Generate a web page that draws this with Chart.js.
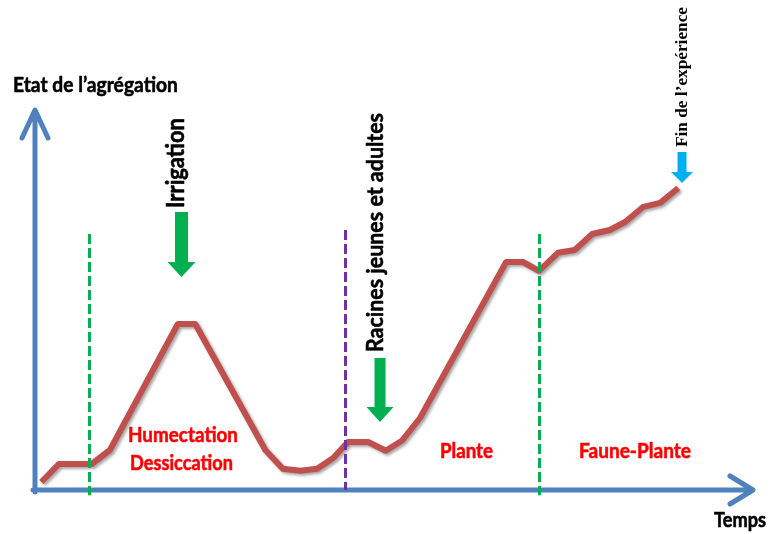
<!DOCTYPE html>
<html>
<head>
<meta charset="utf-8">
<script src="https://cdn.jsdelivr.net/npm/chart.js@4"></script>
<style>
  body { margin: 0; background: #fff; }
  #wrap { width: 769px; height: 534px; }
</style>
</head>
<body>
<div id="wrap"><canvas id="myChart" width="769" height="534"></canvas></div>
<script>
// time (0..100) and aggregation state (0..100)
const times  = [0.9, 3.4, 8.1, 10.7, 20.4, 22.9, 32.9, 35.4, 37.9, 40.3, 42.6, 44.7, 47.6, 50.1,
                52.4, 55, 67.3, 69.7, 72, 74.7, 77.1, 79.6, 82.1, 84.3, 86.9, 89.3, 91.9];
const levels = [2, 6.5, 6.5, 10, 41.5, 41.5, 10, 5.3, 4.8, 5.3, 8, 12, 12, 9.8,
                12.3, 18, 57, 57, 54.8, 59.3, 60, 64, 65, 67, 70.8, 71.8, 75.5];

// phase limits (dashed lines)
const boundaryTimes  = [7.7, 44.3, 72];
const boundaryTops   = [64, 65, 64];
const boundaryColors = ['#00b050', '#7030a0', '#00b050'];

// events (arrows)
const eventLabels = ['Irrigation', 'Racines jeunes et adultes', 'Fin de l’expérience'];
const eventTimes  = [20.93, 49.29, 92.43];

const phaseLabels = ['Humectation', 'Dessiccation', 'Plante', 'Faune-Plante'];
const axisTitles  = ['Etat de l’agrégation', 'Temps'];

// font size so that text fills a given length
function fitFont(ctx, text, len, weight, family) {
    ctx.font = weight + ' 20px ' + family;
    let size = 20 * len / ctx.measureText(text).width;
    return weight + ' ' + size.toFixed(2) + 'px ' + family;
}

function blockArrow(ctx, cx, top, neck, tip, shaftW, headW, color) {
    ctx.beginPath();
    ctx.moveTo(cx - shaftW / 2, top);
    ctx.lineTo(cx + shaftW / 2, top);
    ctx.lineTo(cx + shaftW / 2, neck);
    ctx.lineTo(cx + headW / 2, neck);
    ctx.lineTo(cx, tip);
    ctx.lineTo(cx - headW / 2, neck);
    ctx.lineTo(cx - shaftW / 2, neck);
    ctx.closePath();
    ctx.fillStyle = color;
    ctx.fill();
}

// heavier text, close to the original bold face
function heavyText(ctx, text, color, extra) {
    ctx.fillStyle = color;
    ctx.textAlign = 'left';
    ctx.textBaseline = 'alphabetic';
    ctx.fillText(text, 0, 0);
    if (extra) {
        ctx.strokeStyle = color;
        ctx.lineWidth = extra;
        ctx.lineJoin = 'round';
        ctx.strokeText(text, 0, 0);
    }
}

// vertical text, read from bottom to top
function upText(ctx, text, baseX, bottomY, len, weight, family, color, stretch, extra) {
    ctx.save();
    ctx.translate(baseX, bottomY);
    ctx.rotate(-Math.PI / 2);
    ctx.scale(1, stretch);
    ctx.font = fitFont(ctx, text, len, weight, family);
    heavyText(ctx, text, color, extra);
    ctx.restore();
}

// Lato is wider than the original face: fit the width, then stretch upwards
function flatText(ctx, text, left, base, len, color) {
    ctx.save();
    ctx.translate(left, base);
    ctx.scale(1, 1.1);
    ctx.font = fitFont(ctx, text, len, 'bold', 'Lato');
    heavyText(ctx, text, color, 0.5);
    ctx.restore();
}

const eventStyle = [
    { dx: 2.5, bottom: 208, len: 90, font: 'Lato', color: '#00b050', top: 212, neck: 262, tip: 277, sw: 13, hw: 28, st: 1.1, ex: 0.5 },
    { dx: 3, bottom: 352, len: 239, font: 'Lato', color: '#00b050', top: 358, neck: 407, tip: 422, sw: 11, hw: 27, st: 1.1, ex: 0.5 },
    { dx: 4.5, bottom: 147, len: 140, font: '"Liberation Serif"', color: '#00b0f0', top: 152, neck: 172, tip: 183, sw: 9, hw: 22, st: 1, ex: 0 }
];

const diagram = {
    id: 'diagram',
    beforeDatasetsDraw(chart) {
        const ctx = chart.ctx;
        const ox = chart.scales.x.getPixelForValue(0);
        const oy = chart.scales.y.getPixelForValue(0);
        ctx.save();
        ctx.strokeStyle = '#4f81bd';
        ctx.lineWidth = 5;
        ctx.lineCap = 'round';
        ctx.lineJoin = 'round';
        ctx.beginPath();
        ctx.moveTo(ox, oy + 2);
        ctx.lineTo(ox, 112);
        ctx.moveTo(ox - 13, 138);
        ctx.lineTo(ox, 110);
        ctx.lineTo(ox + 13, 138);
        ctx.moveTo(ox - 2, oy);
        ctx.lineTo(751, oy);
        ctx.moveTo(730, oy - 14);
        ctx.lineTo(753, oy);
        ctx.lineTo(730, oy + 14);
        ctx.stroke();
        ctx.restore();
    },
    beforeDatasetDraw(chart) {
        const ctx = chart.ctx;
        ctx.save();
        ctx.shadowColor = 'rgba(0,0,0,0.35)';
        ctx.shadowBlur = 3;
        ctx.shadowOffsetX = 2;
        ctx.shadowOffsetY = 2;
    },
    afterDatasetDraw(chart) {
        chart.ctx.restore();
    },
    afterDatasetsDraw(chart) {
        const ctx = chart.ctx;
        const xs = chart.scales.x, ys = chart.scales.y;
        ctx.save();

        // dashed phase limits
        boundaryTimes.forEach((t, i) => {
            const x = Math.round(xs.getPixelForValue(t)) + 0.5;
            ctx.beginPath();
            ctx.setLineDash([10, 4]);
            ctx.strokeStyle = boundaryColors[i];
            ctx.lineWidth = 3;
            ctx.moveTo(x, ys.getPixelForValue(boundaryTops[i]));
            ctx.lineTo(x, ys.getPixelForValue(i == 1 ? 0 : -1.3));
            ctx.stroke();
        });
        ctx.setLineDash([]);

        // events
        eventLabels.forEach((label, i) => {
            const s = eventStyle[i];
            const cx = xs.getPixelForValue(eventTimes[i]);
            blockArrow(ctx, cx, s.top, s.neck, s.tip, s.sw, s.hw, s.color);
            upText(ctx, label, cx + s.dx, s.bottom, s.len, 'bold', s.font, '#000', s.st, s.ex);
        });

        // phase names
        flatText(ctx, phaseLabels[0], 128, 442, 110, '#ff0000');
        flatText(ctx, phaseLabels[1], 130, 470, 103, '#ff0000');
        flatText(ctx, phaseLabels[2], 440, 458, 53, '#ff0000');
        flatText(ctx, phaseLabels[3], 579, 458, 112, '#ff0000');

        // axis titles
        flatText(ctx, axisTitles[0], 13, 92, 165, '#000');
        flatText(ctx, axisTitles[1], 714, 527, 52, '#000');
        ctx.restore();
    }
};

const ctx = document.getElementById('myChart');
new Chart(ctx, {
    type: 'line',
    data: {
        datasets: [{
            data: times.map((t, i) => ({ x: t, y: levels[i] })),
            borderColor: '#c0504d',
            borderWidth: 6,
            borderJoinStyle: 'round',
            pointRadius: 0,
            tension: 0,
            fill: false,
            clip: false
        }]
    },
    options: {
        responsive: false,
        animation: false,
        layout: { padding: { left: 35, right: 34, top: 90, bottom: 44 } },
        scales: {
            x: { type: 'linear', display: false, min: 0, max: 100 },
            y: { type: 'linear', display: false, min: 0, max: 100 }
        },
        plugins: {
            legend: { display: false },
            tooltip: { enabled: false }
        }
    },
    plugins: [diagram]
});
</script>
</body>
</html>
